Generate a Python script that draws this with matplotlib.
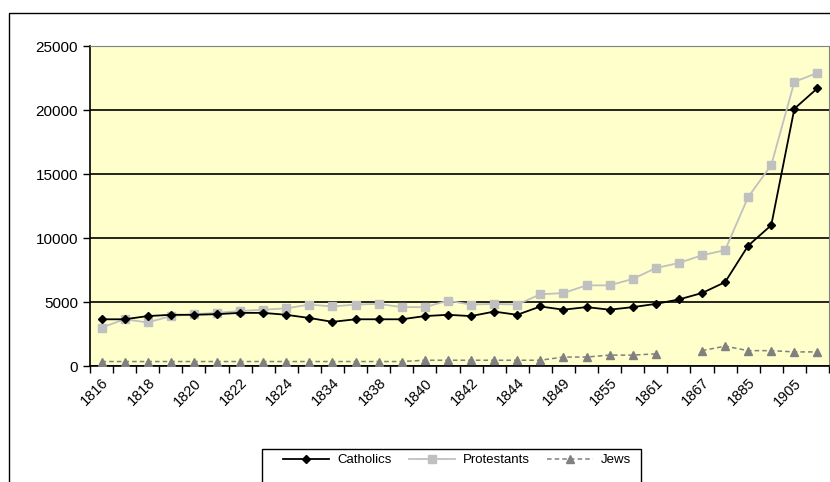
import matplotlib.pyplot as plt
import matplotlib.patches as mpatches
import numpy as np

plt.rcParams['font.family'] = ['Liberation Sans', 'DejaVu Sans']

##### data #####
years = ["1816", "1817", "1818", "1819", "1820", "1821", "1822", "1823",
         "1824", "1828", "1834", "1836", "1838", "1839", "1840", "1841",
         "1842", "1843", "1844", "1846", "1849", "1852", "1855", "1858",
         "1861", "1864", "1867", "1871", "1885", "1895", "1905", "1910"]

catholics = [3650, 3650, 3900, 4000, 4000, 4050, 4150, 4150,
             4000, 3750, 3450, 3650, 3650, 3650, 3900, 4000,
             3900, 4250, 4000, 4650, 4400, 4600, 4400, 4600,
             4850, 5200, 5700, 6550, 9400, 11000, 20100, 21700]

protestants = [3000, 3650, 3400, 3900, 4050, 4150, 4300, 4400,
               4500, 4800, 4650, 4800, 4850, 4600, 4600, 5100,
               4800, 4850, 4800, 5600, 5700, 6300, 6300, 6800,
               7650, 8050, 8650, 9050, 13200, 15700, 22200, 22900]

jews = [350, 350, 350, 350, 350, 350, 350, 350,
        350, 350, 350, 350, 350, 350, 450, 450,
        450, 450, 450, 450, 700, 700, 850, 850,
        950, np.nan, 1200, 1550, 1200, 1200, 1100, 1100]

##### plotting #####
W, H = 830, 482
fig = plt.figure(figsize=(W / 100, H / 100), dpi=100)

# outer chart border
fig.patches.append(mpatches.Rectangle((9 / W, -0.2), 2, 1.2 - 13 / H,
                                      transform=fig.transFigure, fill=False,
                                      edgecolor="black", linewidth=1))

ax = fig.add_axes([90 / W, 1 - 366 / H, 739 / W, 320 / H])
ax.set_facecolor("#FFFFCC")

x = np.arange(len(years))
ax.plot(x, catholics, color="black", marker="D", markersize=4.5,
        linewidth=1.3, label="Catholics", zorder=4)
ax.plot(x, protestants, color="#C0C0C0", marker="s", markersize=6,
        linewidth=1.3, label="Protestants", zorder=3)
ax.plot(x, jews, color="#808080", marker="^", markersize=6,
        linewidth=1.1, linestyle=(0, (3, 2)), label="Jews", zorder=3)

ax.set_xlim(-0.5, len(years) - 0.5)
ax.set_ylim(0, 25000)
ax.set_yticks(range(0, 25001, 5000))
ax.yaxis.grid(True, color="black", linewidth=1.2)
ax.set_axisbelow(True)

# category ticks at boundaries, labels on every other category
ax.set_xticks(np.arange(-0.5, len(years), 1.0))
ax.set_xticklabels([])
ax.set_xticks(x[::2], minor=True)
ax.set_xticklabels(years[::2], minor=True, rotation=45, ha="right",
                   rotation_mode="anchor", fontsize=10.5)
ax.tick_params(axis="x", which="minor", length=0, pad=7)
ax.tick_params(axis="x", which="major", length=5, width=1, direction="out")
ax.tick_params(axis="y", length=5, width=1, direction="out", labelsize=11)

for s in ["top", "right"]:
    ax.spines[s].set_color("#808080")
ax.spines["left"].set_linewidth(1.2)
ax.spines["bottom"].set_linewidth(1.2)

# legend box drawn by hand, extends past the bottom edge
fig.patches.append(mpatches.Rectangle((262 / W, -0.2), 379 / W, 0.2 + 1 - 449 / H,
                                      transform=fig.transFigure, fill=False,
                                      edgecolor="black", linewidth=1))
leg = fig.legend(loc="upper left", bbox_to_anchor=(283 / W, 1 - 454 / H),
                 ncol=3, fontsize=9.5, frameon=False, borderpad=0,
                 borderaxespad=0, handlelength=3.5, handletextpad=0.6,
                 columnspacing=1.3)

fig.savefig("out.png", dpi=100)
